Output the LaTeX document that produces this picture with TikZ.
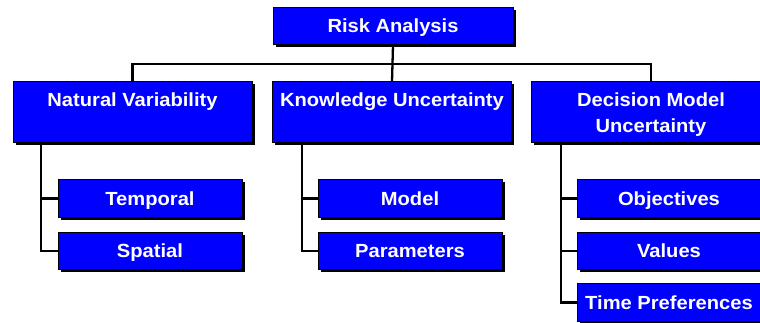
\documentclass[tikz,border=0pt]{standalone}
\usepackage{fontspec}
\setmainfont{Liberation Sans}[FakeStretch=1.06]
\usetikzlibrary{shadows,backgrounds}
\definecolor{boxblue}{RGB}{0,0,255}
% line strut for the two-line category boxes
\newcommand\catstrut{\rule[-4.1pt]{0pt}{22.1pt}}
\begin{document}
\begin{tikzpicture}[x=1pt,y=-1pt,
  box/.style={draw=black, line width=1pt, fill=boxblue, text=white,
    font=\fontsize{19}{25.5}\selectfont\bfseries, align=center,
    inner sep=0pt, anchor=center,
    drop shadow={shadow xshift=2.5pt, shadow yshift=-2.5pt, fill=black, opacity=1}},
  onerow/.style={box, text height=15pt, text depth=2pt},
  topbox/.style={onerow, minimum width=240pt, minimum height=37pt},
  catbox/.style={box, minimum width=239pt, minimum height=61pt},
  subbox/.style={onerow, minimum width=184pt, minimum height=37.5pt},
  wire/.style={draw=black, line width=2.3pt, line join=miter}]
\useasboundingbox (0,0) rectangle (760,323);

\coordinate (bus) at (393,64);
\coordinate (nv) at (41,143);
\coordinate (kv) at (302,143);
\coordinate (dv) at (561,143);

% top level
\node[topbox] (risk) at (393,26.5) {Risk Analysis};

% categories
\node[catbox] (natural)   at (132.5,112.5) {\catstrut Natural Variability\\\catstrut};
\node[catbox] (knowledge) at (392,112.5)   {\catstrut Knowledge Uncertainty\\\catstrut};
\node[catbox] (decision)  at (651,112.5)   {\catstrut Decision Model\\\catstrut Uncertainty};

% sub-items
\node[subbox] (temporal)   at (150,198.5) {Temporal};
\node[subbox] (spatial)    at (150,251)   {Spatial};
\node[subbox] (model)      at (410,198.5) {Model};
\node[subbox] (parameters) at (410,251)   {Parameters};
\node[subbox] (objectives) at (669,198.5) {Objectives};
\node[subbox] (values)     at (669,251)   {Values};
\node[subbox] (timepref)   at (669,302.5) {Time Preferences};

% tree lines, kept behind the boxes
\begin{scope}[on background layer]
\path[wire] (risk.south) -- (knowledge.north);
\path[wire] (natural.north) |- (bus) -| (decision.north);

\path[wire] (nv) |- (spatial.west);
\path[wire] (nv |- temporal.west) -- (temporal.west);

\path[wire] (kv) |- (parameters.west);
\path[wire] (kv |- model.west) -- (model.west);

\path[wire] (dv) |- (timepref.west);
\path[wire] (dv |- objectives.west) -- (objectives.west);
\path[wire] (dv |- values.west) -- (values.west);
\end{scope}
\end{tikzpicture}
\end{document}
